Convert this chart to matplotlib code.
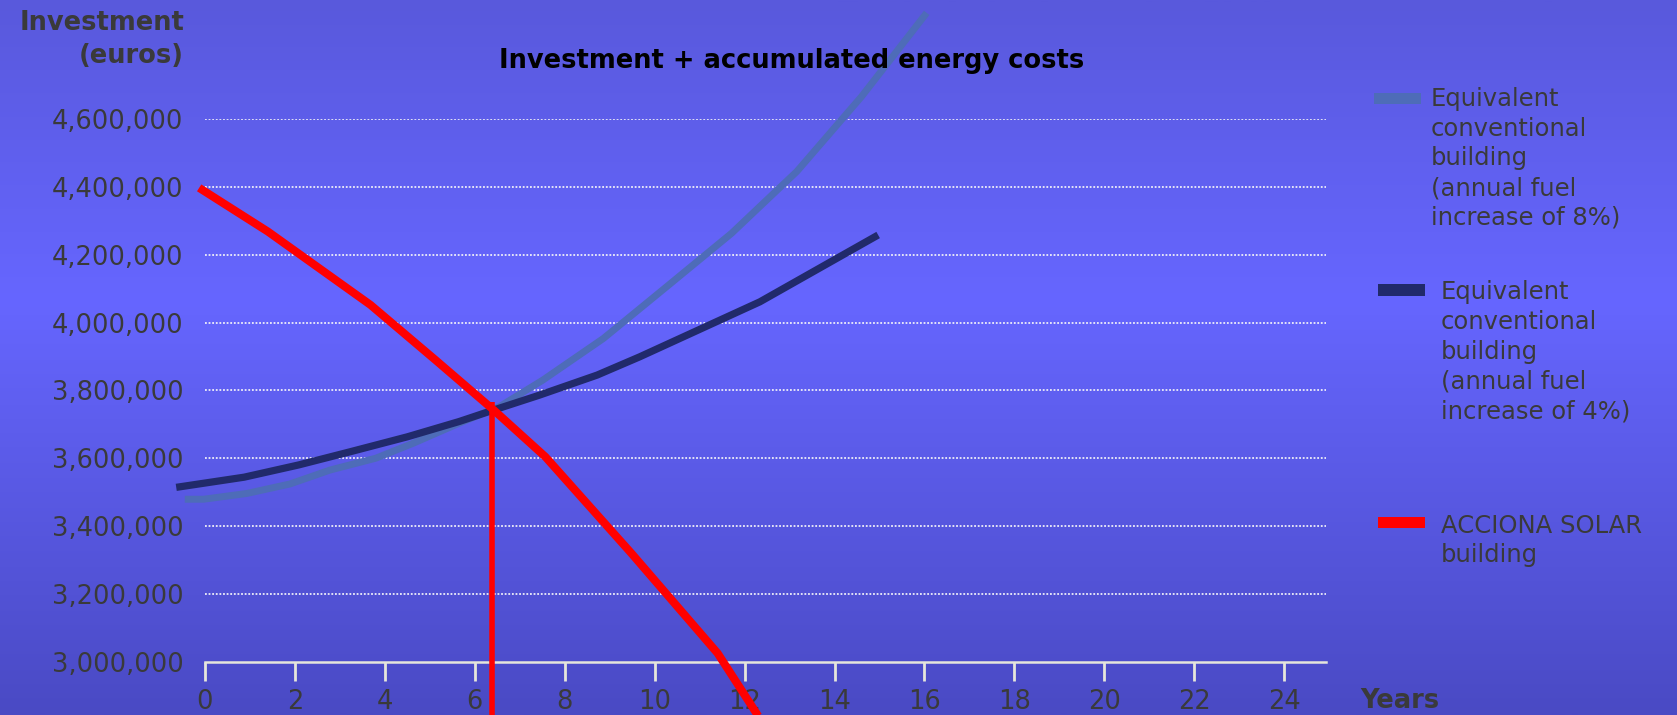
import numpy as np
import matplotlib
matplotlib.use("Agg")
import matplotlib.pyplot as plt
from matplotlib.patches import Rectangle
from matplotlib.colors import LinearSegmentedColormap

# ---------------- data ----------------
light_years = [-0.45, -0.03, 0.93, 1.89, 2.78, 3.80, 4.63, 5.65, 6.55, 7.51, 8.86, 10.27, 11.71, 13.16, 14.60, 16.05]
light_vals = [3479000, 3479000, 3496000, 3524000, 3565000, 3600000, 3644000, 3703000, 3752000, 3830000,
              3953000, 4106000, 4263000, 4445000, 4666000, 4913000]

dark_years = [-0.64, 0.87, 2.08, 3.23, 4.50, 5.65, 6.42, 7.44, 8.72, 9.67, 12.34, 14.97]
dark_vals = [3514000, 3544000, 3580000, 3619000, 3663000, 3708000, 3742000, 3786000, 3845000, 3899000,
             4061000, 4258000]

red_years = [-0.13, 1.40, 3.68, 5.13, 6.42, 7.57, 9.48, 11.40, 12.40]
red_vals = [4397000, 4268000, 4052000, 3889000, 3742000, 3604000, 3320000, 3025000, 2820000]

payback_year = 6.38
payback_top = 3767000
payback_bottom = 2800000

x_ticks = [0, 2, 4, 6, 8, 10, 12, 14, 16, 18, 20, 22, 24]
y_ticks = [3000000, 3200000, 3400000, 3600000, 3800000, 4000000, 4200000, 4400000, 4600000]

series_labels = [
    ["Equivalent", "conventional", "building", "(annual fuel", "increase of 8%)"],
    ["Equivalent", "conventional", "building", "(annual fuel", "increase of 4%)"],
    ["ACCIONA SOLAR", "building"],
]
series_colors = ["#4e6cb8", "#212a6b", "#ff0000"]

title = "Investment + accumulated energy costs"
ylabel_lines = ["Investment", "(euros)"]
xlabel = "Years"

# ---------------- figure ----------------
W, H = 1677, 715
fig = plt.figure(figsize=(W / 100, H / 100), dpi=100)
plt.rcParams['font.family'] = ['DejaVu Sans']

# gradient background
bg = fig.add_axes([0, 0, 1, 1], zorder=-5)
cmap = LinearSegmentedColormap.from_list(
    "bg", [(0.0, "#5959dc"), (0.42, "#6666ff"), (1.0, "#4a4ac4")])
grad = np.linspace(0, 1, 512).reshape(-1, 1)
bg.imshow(grad, aspect="auto", cmap=cmap, extent=[0, 1, 0, 1], origin="upper")
bg.set_axis_off()

def fx(px):
    return px / W

def fy(py):
    return 1 - py / H

ax_left, ax_right = 205, 1326
ax_bottom, ax_top = 661.7, 119
ax = fig.add_axes([fx(ax_left), fy(ax_bottom), fx(ax_right - ax_left), (ax_bottom - ax_top) / H])
ax.set_facecolor("none")
ax.set_xlim(0, 24.93)
ax.set_ylim(3000000, 4600000)

text_gray = "#3a3a3a"
axis_col = "#e6e6dc"

for s in ["top", "right", "left"]:
    ax.spines[s].set_visible(False)
ax.spines["bottom"].set_color(axis_col)
ax.spines["bottom"].set_linewidth(1.8)

ax.set_xticks(x_ticks)
ax.set_xticklabels([str(v) for v in x_ticks])
ax.set_yticks(y_ticks)
ax.set_yticklabels([f"{v:,}" for v in y_ticks])
ax.tick_params(axis="x", direction="out", length=13.5, width=2, color=axis_col,
               pad=6, labelsize=18.5, labelcolor=text_gray)
ax.tick_params(axis="y", length=0, pad=15.5, labelsize=18.5, labelcolor=text_gray)

ax.yaxis.grid(True, color="#eeeef8", linestyle=(0, (1, 1)), linewidth=1.3)
ax.set_axisbelow(True)
for gl in ax.get_ygridlines()[:1]:
    gl.set_visible(False)

ax.plot(light_years, light_vals, color=series_colors[0], lw=5.0, clip_on=False,
        solid_capstyle="butt", solid_joinstyle="round", zorder=3)
ax.plot(dark_years, dark_vals, color=series_colors[1], lw=5.2, clip_on=False,
        solid_capstyle="butt", solid_joinstyle="round", zorder=4)
ax.plot(red_years, red_vals, color=series_colors[2], lw=5.8, clip_on=False,
        solid_capstyle="butt", solid_joinstyle="round", zorder=5)
ax.plot([payback_year, payback_year], [payback_top, payback_bottom], color=series_colors[2],
        lw=4.0, clip_on=False, solid_capstyle="butt", zorder=5)

# title
fig.text(fx(791.5), fy(68.3), title, ha="center", va="baseline", fontsize=18.5,
         fontweight="bold", color="black", zorder=10)

# y label (two lines, right aligned)
fig.text(fx(184), fy(30), ylabel_lines[0], ha="right", va="baseline", fontsize=18.5,
         fontweight="bold", color=text_gray)
fig.text(fx(184), fy(62.7), ylabel_lines[1], ha="right", va="baseline", fontsize=18.5,
         fontweight="bold", color=text_gray)

# x label
fig.text(fx(1360), fy(708), xlabel, ha="left", va="baseline", fontsize=18.5,
         fontweight="bold", color=text_gray)

# legend (manual)
legend_patch = [(1374, 92.7, 1420.7, 104), (1378, 284.3, 1425, 295.7), (1378, 516.7, 1425, 528.3)]
legend_text_x = [1431, 1441, 1441]
legend_first_baseline = [106, 299.4, 532.7]
line_step = 29.7
for i in range(3):
    x0, y0, x1, y1 = legend_patch[i]
    fig.add_artist(Rectangle((fx(x0), fy(y1)), fx(x1 - x0), (y1 - y0) / H,
                             transform=fig.transFigure, facecolor=series_colors[i],
                             edgecolor="none"))
    for j, line in enumerate(series_labels[i]):
        fig.text(fx(legend_text_x[i]), fy(legend_first_baseline[i] + j * line_step), line,
                 ha="left", va="baseline", fontsize=17.5, color=text_gray)

fig.savefig("out.png", dpi=100)
